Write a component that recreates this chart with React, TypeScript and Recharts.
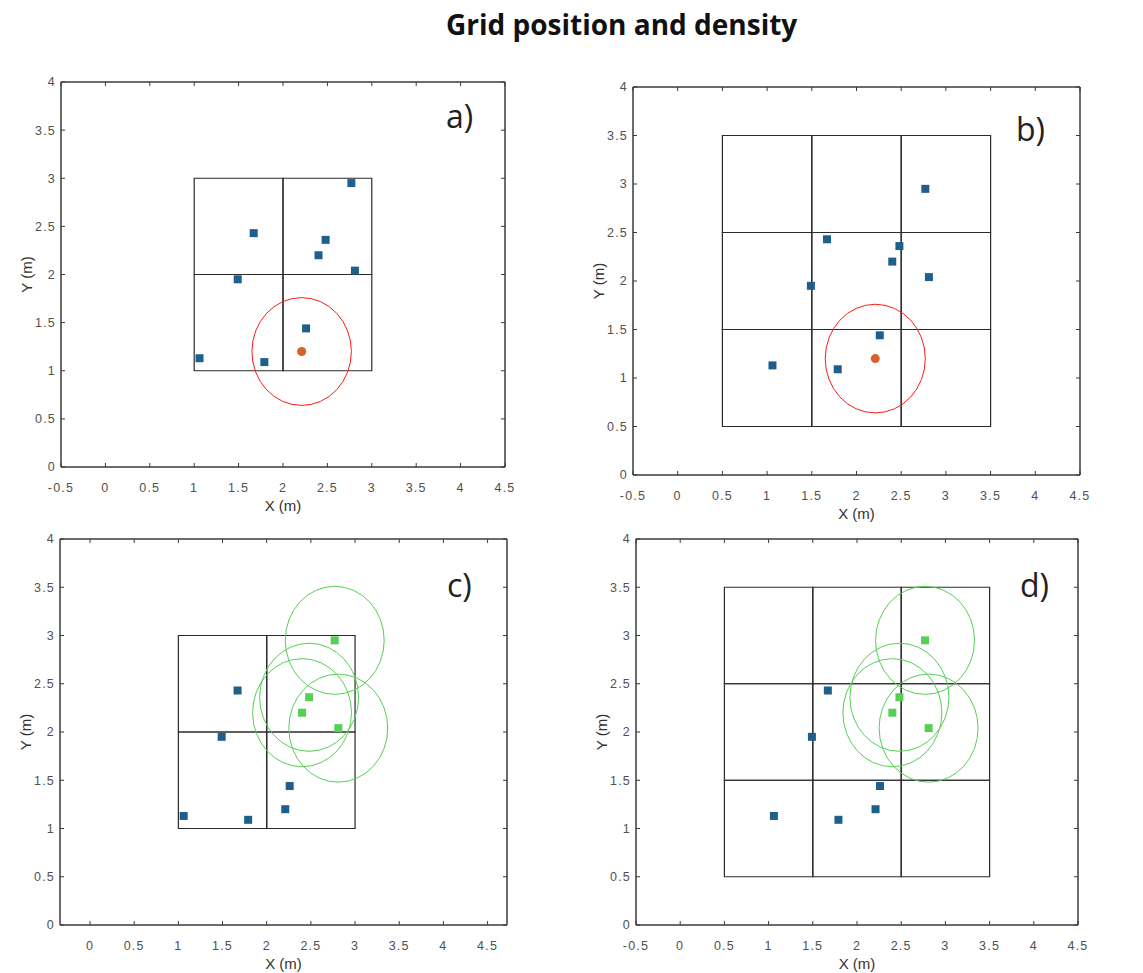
import React from "react";
import {ReferenceArea, Scatter, ScatterChart, XAxis, YAxis, ZAxis} from "recharts";

// sample positions (m)
const sampleX = [1.06, 1.49, 1.67, 1.79, 2.26, 2.4, 2.48, 2.77, 2.81];
const sampleY = [1.13, 1.95, 2.43, 1.09, 1.44, 2.2, 2.36, 2.95, 2.04];
// query point and its search radius
const queryX = 2.21;
const queryY = 1.2;
const searchRadius = 0.56;
// samples that become query points in c) and d)
const neighbourIdx = [5, 6, 7, 8];

const coarseEdges = [1, 2, 3];
const fineEdges = [0.5, 1.5, 2.5, 3.5];

const xTicksFull = [-0.5, 0, 0.5, 1, 1.5, 2, 2.5, 3, 3.5, 4, 4.5];
const xTicksShort = [0, 0.5, 1, 1.5, 2, 2.5, 3, 3.5, 4, 4.5];
const yTicks = [0, 0.5, 1, 1.5, 2, 2.5, 3, 3.5, 4];

const BLUE = "#1f5f8b";
const ORANGE = "#d9602c";
const RED = "#ff1a1a";
const GREEN = "#55d055";
const AXIS = "#3a3a3a";
const FONT = "Liberation Sans, Arial, sans-serif";
const tickStyle = {fontSize: 12.5, fill: "#505050", fontFamily: FONT, letterSpacing: 1.2};

type Mode = "query" | "neighbours";

interface PanelProps {
    plot: {left: number; top: number; right: number; bottom: number};
    xDomain: [number, number];
    xTicks: number[];
    edges: number[];
    mode: Mode;
}

const ring = (color: string) => (p: any) => (
    <ellipse
        cx={p.x + p.width / 2}
        cy={p.y + p.height / 2}
        rx={Math.abs(p.width) / 2}
        ry={Math.abs(p.height) / 2}
        fill="none"
        stroke={color}
        strokeWidth={1}
    />
);

function Panel(props: PanelProps) {
    const {plot, xDomain, xTicks, edges, mode} = props;
    const mL = 21, yW = 40, mT = 24, mR = 39, xH = 48, mB = 7;
    const width = plot.right - plot.left + mL + yW + mR + 1;
    const height = plot.bottom - plot.top + mT + xH + mB + 1;

    const pts = sampleX.map((x, i) => ({x, y: sampleY[i], i}));
    const blue = mode === "query"
        ? pts
        : [...pts.filter(p => !neighbourIdx.includes(p.i)), {x: queryX, y: queryY, i: -1}];
    const green = mode === "query" ? [] : pts.filter(p => neighbourIdx.includes(p.i));
    const centres = mode === "query" ? [{x: queryX, y: queryY}] : green;

    const cells: {x1: number; x2: number; y1: number; y2: number}[] = [];
    for (let i = 0; i < edges.length - 1; i++) {
        for (let j = 0; j < edges.length - 1; j++) {
            cells.push({x1: edges[i], x2: edges[i + 1], y1: edges[j], y2: edges[j + 1]});
        }
    }

    return (
        <div style={{position: "absolute", left: plot.left - mL - yW, top: plot.top - mT - 1}}>
            <ScatterChart width={width} height={height} margin={{left: mL, top: mT, right: mR, bottom: mB}}>
                <XAxis
                    type="number"
                    dataKey="x"
                    domain={xDomain}
                    ticks={xTicks}
                    allowDataOverflow
                    interval={0}
                    height={xH}
                    tickSize={-4}
                    tickMargin={20}
                    tick={tickStyle}
                    stroke={AXIS}
                    tickLine={{stroke: AXIS}}
                    label={{value: "X (m)", position: "insideBottom", offset: 4, style: {fontSize: 15, fill: "#333", fontFamily: FONT}}}
                />
                <XAxis
                    xAxisId="top"
                    orientation="top"
                    type="number"
                    dataKey="x"
                    domain={xDomain}
                    ticks={xTicks}
                    allowDataOverflow
                    interval={0}
                    height={1}
                    tickSize={-4}
                    tickFormatter={() => ""}
                    stroke={AXIS}
                />
                <YAxis
                    type="number"
                    dataKey="y"
                    domain={[0, 4]}
                    ticks={yTicks}
                    allowDataOverflow
                    interval={0}
                    width={yW}
                    tickSize={-4}
                    tickMargin={9}
                    tick={tickStyle}
                    stroke={AXIS}
                    label={{value: "Y (m)", angle: -90, position: "insideLeft", offset: 6, style: {textAnchor: "middle", fontSize: 15, fill: "#333", fontFamily: FONT}}}
                />
                <YAxis
                    yAxisId="right"
                    orientation="right"
                    type="number"
                    dataKey="y"
                    domain={[0, 4]}
                    ticks={yTicks}
                    allowDataOverflow
                    interval={0}
                    width={1}
                    tickSize={-4}
                    tickFormatter={() => ""}
                    stroke={AXIS}
                />
                <ZAxis range={[36, 36]} />
                <ReferenceArea x1={xDomain[0]} x2={xDomain[1]} y1={0} y2={4} fill="none" stroke={AXIS} strokeWidth={1} ifOverflow="visible" />
                {cells.map((c, k) => (
                    <ReferenceArea key={"c" + k} {...c} fill="none" stroke="#2b2b2b" strokeWidth={1.2} ifOverflow="visible" />
                ))}
                {centres.map((c, k) => (
                    <ReferenceArea
                        key={"r" + k}
                        x1={c.x - searchRadius}
                        x2={c.x + searchRadius}
                        y1={c.y - searchRadius}
                        y2={c.y + searchRadius}
                        ifOverflow="visible"
                        shape={ring(mode === "query" ? RED : GREEN)}
                    />
                ))}
                <Scatter data={blue} fill={BLUE} shape="square" legendType="none" isAnimationActive={false} />
                {mode === "query" ? (
                    <Scatter data={[{x: queryX, y: queryY}]} fill={ORANGE} shape="circle" isAnimationActive={false} />
                ) : (
                    <Scatter data={green} fill={GREEN} shape="square" isAnimationActive={false} />
                )}
            </ScatterChart>
        </div>
    );
}

const panelLabel = (text: string, left: number, top: number) => (
    <div style={{position: "absolute", left, top, fontSize: 32, lineHeight: "32px", fontFamily: "Open Sans, sans-serif", color: "#222"}}>
        {text}
    </div>
);

export default function App() {
    return (
        <div style={{position: "absolute", left: 0, top: 0, width: 1143, height: 973, background: "#fff", overflow: "hidden"}}>
            <div style={{position: "absolute", left: 446, top: 5, whiteSpace: "nowrap", fontFamily: "Open Sans, sans-serif", fontWeight: 700, fontSize: 28, color: "#111"}}>
                Grid position and density
            </div>
            <Panel plot={{left: 61, top: 82, right: 505, bottom: 467}} xDomain={[-0.5, 4.5]} xTicks={xTicksFull} edges={coarseEdges} mode="query" />
            <Panel plot={{left: 633, top: 87, right: 1080, bottom: 475}} xDomain={[-0.5, 4.5]} xTicks={xTicksFull} edges={fineEdges} mode="query" />
            <Panel plot={{left: 60, top: 539, right: 507, bottom: 925}} xDomain={[-0.34, 4.72]} xTicks={xTicksShort} edges={coarseEdges} mode="neighbours" />
            <Panel plot={{left: 636, top: 539, right: 1078, bottom: 925}} xDomain={[-0.5, 4.5]} xTicks={xTicksFull} edges={fineEdges} mode="neighbours" />
            {panelLabel("a)", 446, 100)}
            {panelLabel("b)", 1016, 113)}
            {panelLabel("c)", 447, 569)}
            {panelLabel("d)", 1020, 569)}
        </div>
    );
}
